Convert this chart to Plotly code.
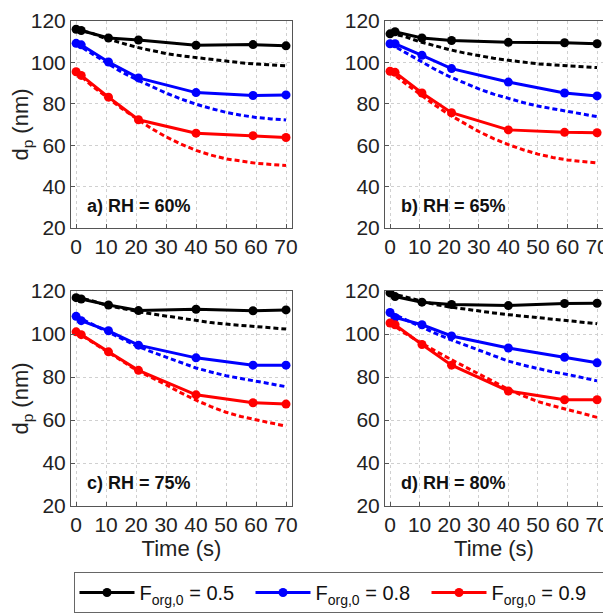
import plotly.graph_objects as go
from plotly.subplots import make_subplots

# measured points
t_meas = [0, 1.7, 10.8, 20.8, 40, 59, 70]
# model curves
t_model = [0, 5, 10, 15, 20, 25, 30, 35, 40, 45, 50, 55, 60, 65, 70]

panel_labels = ["a) RH = 60%", "b) RH = 65%", "c) RH = 75%", "d) RH = 80%"]
series_names = ["F<sub>org,0</sub> = 0.5", "F<sub>org,0</sub> = 0.8", "F<sub>org,0</sub> = 0.9"]
colors = ["#000000", "#0000ff", "#ff0000"]

# measured dp (nm), per panel: [F=0.5, F=0.8, F=0.9]
meas_a = [[116, 115.4, 111.8, 110.8, 108.3, 108.6, 108],
          [109.2, 108.5, 100.2, 92.5, 85.4, 84, 84.3],
          [95.5, 93.7, 83.2, 72.3, 65.8, 64.6, 63.7]]
meas_b = [[113.8, 114.8, 111.8, 110.6, 109.7, 109.5, 109],
          [109, 109, 103.4, 97, 90.5, 85.2, 83.8],
          [95.7, 95.2, 85.2, 75.7, 67.4, 66.2, 66]]
meas_c = [[116.9, 116.3, 113.5, 110.9, 111.5, 110.8, 111.2],
          [108.2, 106.2, 101.5, 94.8, 88.9, 85.5, 85.5],
          [101, 99.7, 91.7, 83.1, 71.7, 68, 67.4]]
meas_d = [[119.1, 117.4, 114.8, 113.7, 113.2, 114.2, 114.3],
          [110, 107.7, 104.3, 99.1, 93.5, 89.2, 86.6],
          [105.1, 104.3, 95.1, 85.5, 73.5, 69.4, 69.4]]

# model dp (nm)
model_a = [[116, 114.2, 111.5, 109.3, 107.4, 105.8, 104.3, 103.2, 102.3, 101.3, 100.5, 99.8, 99.2, 98.8, 98.4],
           [109, 104.5, 99.8, 95.5, 91.8, 88.5, 85.2, 82.3, 79.8, 77.7, 75.9, 74.5, 73.4, 72.7, 72.2],
           [95.5, 89, 83.5, 78, 73, 68.2, 64, 60.5, 57.5, 55.2, 53.4, 52.2, 51.3, 50.7, 50.2]]
model_b = [[114, 112.5, 110, 108, 106.2, 104.6, 103.2, 102, 101, 100.1, 99.3, 98.8, 98.3, 97.9, 97.5],
           [109, 104.8, 100.8, 96.8, 93.2, 90, 87.2, 84.7, 82.6, 80.6, 78.9, 77.6, 76.4, 75, 73.8],
           [95.7, 90, 84.8, 79.5, 74.8, 70.5, 66.6, 63.2, 60.3, 57.8, 55.7, 54.1, 52.9, 52.1, 51.4]]
model_c = [[117, 115.6, 113.4, 111.9, 110.6, 109.4, 108.3, 107.2, 106.2, 105.3, 104.6, 104.1, 103.6, 103, 102.3],
           [108.2, 104.8, 101.2, 97.8, 94.6, 91.8, 89.2, 86.6, 84.2, 82.3, 80.6, 79.3, 78.2, 76.8, 75.5],
           [101, 96.5, 92, 87.5, 83.3, 79.8, 76.4, 72.6, 69.2, 66.2, 63.6, 61.6, 60, 58.6, 57.2]]
model_d = [[119, 117.3, 115.3, 113.8, 112.6, 111.6, 110.6, 109.8, 109, 108.3, 107.6, 106.9, 106.2, 105.5, 104.8],
           [110, 106.8, 103.6, 100.5, 97.6, 95, 92.4, 89.8, 87.4, 85.5, 83.8, 82.4, 81.2, 79.6, 78.2],
           [105.1, 100.4, 96.2, 92.2, 88.6, 85, 81.4, 77.8, 74.3, 71.2, 68.6, 66.6, 65, 63.1, 61.2]]

meas = [meas_a, meas_b, meas_c, meas_d]
model = [model_a, model_b, model_c, model_d]
cells = [(1, 1), (1, 2), (2, 1), (2, 2)]

fig = make_subplots(rows=2, cols=2)

for p, (r, c) in enumerate(cells):
    for k in range(3):
        fig.add_trace(go.Scatter(
            x=t_model, y=model[p][k], mode="lines",
            line=dict(color=colors[k], width=3, dash="5px,3px"),
            showlegend=False, hoverinfo="skip"), row=r, col=c)
    for k in range(3):
        fig.add_trace(go.Scatter(
            x=t_meas, y=meas[p][k], mode="lines+markers", name=series_names[k],
            line=dict(color=colors[k], width=3), marker=dict(size=9, color=colors[k]),
            showlegend=(p == 0)), row=r, col=c)

# page has an 8px body margin, so the figure is 603x606 and sits at (8, 8)
W, H = 603, 606
font_family = "Liberation Sans, Arial, sans-serif"
tick_font = dict(family=font_family, size=21, color="#222")
title_font = dict(family=font_family, size=22, color="#222")
x_domains = [[(71 - 8) / W, (292 - 8) / W], [(385 - 8) / W, (603 - 8) / W]]
y_domains = [[1 - (228 - 8) / H, 1 - (21 - 8) / H], [1 - (506 - 8) / H, 1 - (291 - 8) / H]]

for p, (r, c) in enumerate(cells):
    xa = dict(range=[-1.7, 72], tickvals=[0, 10, 20, 30, 40, 50, 60, 70],
              domain=x_domains[c - 1], showline=True, mirror=True, linecolor="#555",
              linewidth=1, gridcolor="#d0d0d0", griddash="dot", zeroline=False,
              ticks="inside", ticklen=4, tickcolor="#555", tickfont=tick_font,
              automargin=False, ticklabeloverflow="allow")
    if r == 2:
        xa["title"] = dict(text="Time (s)", font=title_font, standoff=2)
    fig.update_xaxes(xa, row=r, col=c)
    ya = dict(range=[20, 120], tickvals=[20, 40, 60, 80, 100, 120],
              domain=y_domains[r - 1], showline=True, mirror=True, linecolor="#555",
              linewidth=1, gridcolor="#d0d0d0", griddash="dot", zeroline=False,
              ticks="inside", ticklen=4, tickcolor="#555", tickfont=tick_font,
              automargin=False, ticklabeloverflow="allow")
    if c == 1:
        ya["title"] = dict(text="d<sub>p</sub> (nm)", font=title_font, standoff=6)
    fig.update_yaxes(ya, row=r, col=c)
    xref = "x domain" if p == 0 else f"x{p + 1} domain"
    yref = "y domain" if p == 0 else f"y{p + 1} domain"
    fig.add_annotation(text=f"<b>{panel_labels[p]}</b>", xref=xref, yref=yref,
                       x=0.065, y=0.105, xanchor="left", yanchor="middle", showarrow=False,
                       font=dict(family=font_family, size=18, color="#111"))

fig.update_layout(
    width=W, height=H,
    margin=dict(l=0, r=0, t=0, b=0),
    plot_bgcolor="white", paper_bgcolor="white",
    legend=dict(orientation="h", x=(338.5 - 8) / W, xanchor="center", y=1 - (572 - 8) / H,
                yanchor="top", bordercolor="#666", borderwidth=1,
                entrywidth=106, entrywidthmode="pixels", itemwidth=55,
                font=dict(family=font_family, size=20, color="#111")),
)

fig.write_html("out.html")
